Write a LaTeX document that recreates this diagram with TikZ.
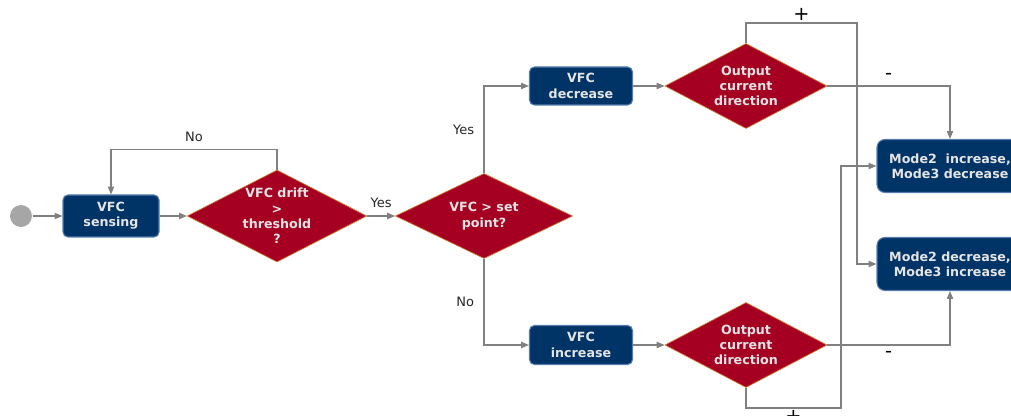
\documentclass[tikz,border=0pt]{standalone}
\usepackage{fontspec}
\setmainfont{DejaVu Sans}
\definecolor{box_c}{RGB}{0,51,102}
\definecolor{box_e}{RGB}{85,125,175}
\definecolor{dec_c}{RGB}{165,0,33}
\definecolor{dec_e}{RGB}{205,115,45}
\definecolor{txt_c}{RGB}{228,228,228}
\definecolor{line_c}{RGB}{128,128,128}
\definecolor{start_c}{RGB}{166,166,166}
\usetikzlibrary{arrows.meta,
                positioning,
                shapes.geometric}

\begin{document}
\begin{tikzpicture}[
			line width=0.6pt,
			box/.style = {rectangle, rounded corners=2.8pt, fill=box_c, draw=box_e,
				text=txt_c, align=center, inner sep=1pt,
				font=\fontsize{7.2}{8.7}\selectfont\bfseries},
			modebox/.style = {box, rounded corners=4.5pt, minimum width=2.92cm, minimum height=1.06cm},
			decision/.style = {diamond, fill=dec_c, draw=dec_e, line width=0.4pt, aspect=2,
				text=txt_c, align=center, inner sep=0pt,
				font=\fontsize{7.2}{8.7}\selectfont\bfseries},
			flow/.style = {draw=line_c, -{Triangle[length=4.5pt,width=3.6pt]}},
			branch/.style = {text=black!85, font=\fontsize{7.4}{9}\selectfont},
			sign/.style = {text=black, font=\fontsize{11}{12}\selectfont},
			]
			\useasboundingbox (0,0) rectangle (20.22,-8.32);
			% start
			\node[circle, fill=start_c, minimum size=0.44cm, inner sep=0pt] (start) at (0.42,-4.32) {};
			% boxes
			\node[box, minimum width=1.92cm, minimum height=0.84cm] (sensing) at (2.22,-4.32) {VFC\\sensing};
			\node[box, minimum width=2.06cm, minimum height=0.76cm] (decrease) at (11.62,-1.72) {VFC\\decrease};
			\node[box, minimum width=2.06cm, minimum height=0.78cm] (increase) at (11.62,-6.90) {VFC\\increase};
			\node[modebox] (mode_up) at (19.0,-3.32) {Mode2\ \ increase,\\Mode3 decrease};
			\node[modebox] (mode_dn) at (19.0,-5.28) {Mode2 decrease,\\Mode3 increase};
			% decisions
			\node[decision, minimum width=3.44cm, minimum height=1.84cm] (drift) at (5.54,-4.32) {VFC drift\\>\\threshold\\?};
			\node[decision, minimum width=3.54cm, minimum height=1.70cm] (setpoint) at (9.68,-4.32) {VFC > set\\point?};
			\node[decision, minimum width=3.24cm, minimum height=1.70cm] (dir_up) at (14.92,-1.72) {Output\\current\\direction};
			\node[decision, minimum width=3.24cm, minimum height=1.70cm] (dir_dn) at (14.92,-6.90) {Output\\current\\direction};
			% lanes
			\coordinate (lane_up) at (17.14,-0.46);
			\coordinate (lane_dn) at (16.82,-8.16);
			% edges
			\draw[flow] (start) -- (sensing);
			\draw[flow] (sensing) -- (drift);
			\draw[flow] (drift.north) -- ++(0,0.4) -| node[branch, pos=0.25, above=1pt] {No} (sensing.north);
			\draw[flow] (drift.east) -- node[branch, above=1pt] {Yes} (setpoint.west);
			\draw[flow] (setpoint.north) |- node[branch, pos=0.25, left=2pt] {Yes} (decrease.west);
			\draw[flow] (setpoint.south) |- node[branch, pos=0.25, left=2pt] {No} (increase.west);
			\draw[flow] (decrease) -- (dir_up);
			\draw[flow] (increase) -- (dir_dn);
			\draw[flow] (dir_up.north) |- node[sign, pos=0.75, above=-2pt] {+} (lane_up) |- (mode_dn.west);
			\draw[flow] (dir_up.east) -| node[sign, pos=0.25, above=0pt] {-} (mode_up.north);
			\draw[flow] (dir_dn.south) |- node[sign, pos=0.75, below=-2pt] {+} (lane_dn) |- (mode_up.west);
			\draw[flow] (dir_dn.east) -| node[sign, pos=0.25, below=0pt] {-} (mode_dn.south);
		\end{tikzpicture}
\end{document}
